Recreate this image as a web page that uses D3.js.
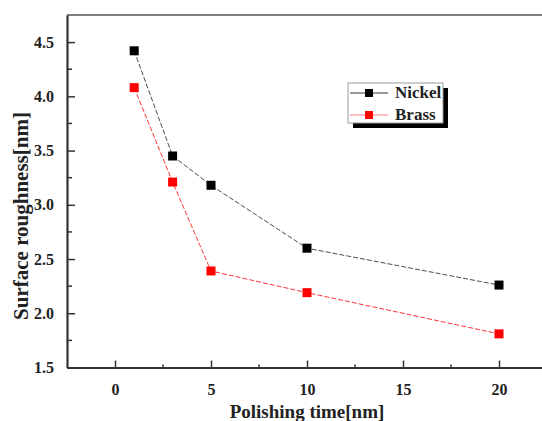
<!DOCTYPE html>
<html>
<head>
<meta charset="utf-8">
<script src="https://cdn.jsdelivr.net/npm/d3@7"></script>
<style>
  html, body { margin: 0; padding: 0; background: #fff; }
  svg { display: block; }
  svg text { font-family: "Liberation Serif", "DejaVu Serif", serif; font-weight: bold; }
</style>
</head>
<body>
<svg id="chart"></svg>
<script>
// Data
const polishTime = [1, 3, 5, 10, 20];
const nickel = [4.42, 3.45, 3.18, 2.6, 2.26];
const brass = [4.08, 3.21, 2.39, 2.19, 1.81];
const seriesNames = ["Nickel", "Brass"];
const seriesColors = ["#000000", "#ff0000"];
const xTicks = [0, 5, 10, 15, 20];
const yTicks = [1.5, 2.0, 2.5, 3.0, 3.5, 4.0, 4.5];

const width = 542;
const height = 421;
const serif = "'Liberation Serif', 'DejaVu Serif', serif";

const svg = d3.select("#chart")
  .attr("width", width)
  .attr("height", height)
  .style("overflow", "hidden");

// Scales (plot box runs past the right edge of the picture)
const x = d3.scaleLinear().domain([-2.5, 22.5]).range([67, 547]);
const y = d3.scaleLinear().domain([1.5, 4.75]).range([367.5, 15]);

// top frame line
svg.append("line")
  .attr("x1", x(-2.5)).attr("x2", x(22.5))
  .attr("y1", y(4.75)).attr("y2", y(4.75))
  .attr("stroke", "#555").attr("stroke-width", 1.5);

// Minor ticks
const yMinor = d3.range(1.75, 4.75, 0.5);
svg.append("g")
  .selectAll("line")
  .data(yMinor)
  .join("line")
  .attr("x1", x(-2.5)).attr("x2", x(-2.5) + 5)
  .attr("y1", (d) => y(d)).attr("y2", (d) => y(d))
  .attr("stroke", "#333").attr("stroke-width", 1.5);

const xMinor = d3.range(2.5, 22.5, 5);
svg.append("g")
  .selectAll("line")
  .data(xMinor)
  .join("line")
  .attr("x1", (d) => x(d)).attr("x2", (d) => x(d))
  .attr("y1", y(1.5)).attr("y2", y(1.5) - 3)
  .attr("stroke", "#333").attr("stroke-width", 1.5);

// Axes with ticks pointing inward
const xAxis = d3.axisBottom(x)
  .tickValues(xTicks)
  .tickFormat(d3.format("d"))
  .tickSizeInner(-7)
  .tickSizeOuter(0)
  .tickPadding(16);

const yAxis = d3.axisLeft(y)
  .tickValues(yTicks)
  .tickFormat(d3.format(".1f"))
  .tickSizeInner(-8)
  .tickSizeOuter(0)
  .tickPadding(13);

const gx = svg.append("g")
  .attr("transform", `translate(0,${y(1.5)})`)
  .call(xAxis)
  .attr("font-family", serif)
  .attr("font-size", 16);
gx.selectAll(".tick text").attr("fill", "#222");
gx.selectAll(".tick line").attr("stroke", "#333").attr("stroke-width", 1.5);
gx.select(".domain").attr("stroke", "#333").attr("stroke-width", 2.2);

const gy = svg.append("g")
  .attr("transform", `translate(${x(-2.5)},0)`)
  .call(yAxis)
  .attr("font-family", serif)
  .attr("font-size", 16);
gy.selectAll(".tick text").attr("fill", "#222");
gy.selectAll(".tick line").attr("stroke", "#333").attr("stroke-width", 1.5);
gy.select(".domain").attr("stroke", "#333").attr("stroke-width", 2.2);

// Axis titles
svg.append("text")
  .attr("transform", "translate(28,216) rotate(-90)")
  .attr("text-anchor", "middle")
  .attr("font-size", 21)
  .attr("fill", "#222")
  .text("Surface roughness[nm]");

svg.append("text")
  .attr("x", 307)
  .attr("y", 418)
  .attr("text-anchor", "middle")
  .attr("font-size", 19)
  .attr("fill", "#222")
  .text("Polishing time[nm]");

// Series
const series = [nickel, brass];
const line = d3.line()
  .x((d, i) => x(polishTime[i]))
  .y((d) => y(d));

series.forEach((vals, s) => {
  svg.append("path")
    .datum(vals)
    .attr("d", line)
    .attr("fill", "none")
    .attr("stroke", seriesColors[s])
    .attr("stroke-opacity", s === 0 ? 0.7 : 0.8)
    .attr("stroke-width", 1)
    .attr("stroke-dasharray", "5,2");

  svg.append("g")
    .selectAll("rect")
    .data(vals)
    .join("rect")
    .attr("x", (d, i) => x(polishTime[i]) - 4.5)
    .attr("y", (d) => y(d) - 4.5)
    .attr("width", 9)
    .attr("height", 9)
    .attr("fill", seriesColors[s]);
});

// Legend with drop shadow
const legend = svg.append("g").attr("transform", "translate(348,83)");
legend.append("rect")
  .attr("x", 5).attr("y", 5)
  .attr("width", 95).attr("height", 40)
  .attr("fill", "#000");
legend.append("rect")
  .attr("width", 95).attr("height", 40)
  .attr("fill", "#fff")
  .attr("stroke", "#999")
  .attr("stroke-width", 1);

const entries = legend.selectAll(".entry")
  .data(seriesNames)
  .join("g")
  .attr("class", "entry")
  .attr("transform", (d, i) => `translate(0,${10 + i * 22})`);

entries.append("line")
  .attr("x1", 2).attr("x2", 40)
  .attr("stroke", (d, i) => seriesColors[i])
  .attr("stroke-opacity", (d, i) => (i === 0 ? 0.8 : 0.5))
  .attr("stroke-width", 1);

entries.append("rect")
  .attr("x", 17).attr("y", -4)
  .attr("width", 8).attr("height", 8)
  .attr("fill", (d, i) => seriesColors[i]);

entries.append("text")
  .attr("x", 47)
  .attr("y", 5)
  .attr("font-size", 17)
  .attr("fill", "#222")
  .text((d) => d);
</script>
</body>
</html>
